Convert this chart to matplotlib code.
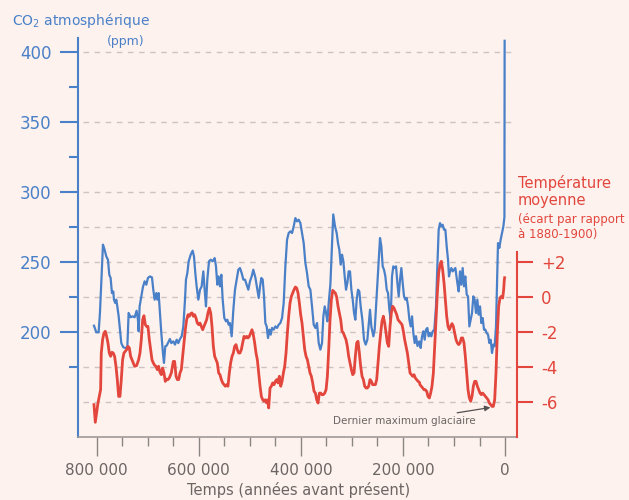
import matplotlib
matplotlib.use('Agg')
import matplotlib.pyplot as plt
import numpy as np

BLUE = '#4a80c8'
RED = '#e2463c'
GREY = '#6b6563'
BG = '#fdf2ee'

# time in thousands of years before present
co2_ka = [805.2, 800.7, 796.1, 793.5, 789.6, 787.6, 784.4, 781.1, 777.8, 775.2, 772.6, 770.0, 767.4, 766.1,
          763.5, 761.5, 759.5, 756.9, 754.3, 751.7, 747.8, 743.9, 739.9, 737.3, 733.4, 729.5, 725.6, 721.7,
          719.1, 717.7, 715.8, 712.5, 709.3, 706.0, 702.7, 699.5, 695.5, 691.6, 689.0, 686.4, 683.1, 681.2,
          678.6, 675.9, 673.3, 670.1, 668.1, 665.5, 662.9, 660.3, 656.4, 653.7, 649.8, 646.5, 643.2, 640.0,
          636.7, 633.4, 630.2, 626.9, 625.0, 622.3, 619.7, 615.8, 611.9, 609.3, 606.7, 604.1, 600.8, 597.5,
          594.3, 591.0, 588.4, 585.8, 583.2, 579.9, 576.6, 572.7, 568.8, 566.2, 563.6, 561.0, 558.4, 555.7,
          553.1, 549.9, 546.6, 544.0, 541.4, 538.8, 535.5, 532.2, 529.0, 525.7, 522.4, 519.2, 515.9, 512.6,
          509.4, 506.1, 502.9, 499.6, 496.3, 493.1, 489.1, 485.8, 482.5, 479.9, 477.3, 474.7, 472.1, 469.5,
          466.9, 464.3, 461.6, 459.0, 456.4, 453.2, 449.9, 446.6, 443.4, 440.1, 436.8, 433.6, 430.3, 427.0,
          423.8, 420.5, 417.2, 414.0, 410.7, 407.4, 404.2, 400.9, 397.7, 394.4, 391.1, 387.9, 384.6, 381.3,
          378.1, 374.8, 371.5, 368.3, 365.0, 361.7, 358.5, 355.9, 353.2, 350.6, 348.0, 345.4, 342.1, 338.9,
          336.5, 333.0, 329.8, 327.2, 324.6, 321.9, 319.3, 316.7, 314.1, 311.5, 308.9, 306.3, 303.7, 301.0,
          298.4, 295.8, 293.2, 290.6, 288.0, 285.4, 282.8, 279.5, 276.2, 273.0, 269.7, 267.1, 264.5, 261.9,
          257.9, 255.3, 252.7, 250.1, 247.5, 244.9, 242.3, 239.7, 237.1, 234.4, 231.8, 229.2, 226.6, 224.0,
          221.4, 218.8, 216.2, 213.5, 210.9, 208.3, 205.7, 203.1, 200.5, 197.9, 195.3, 192.6, 190.0, 187.4,
          184.8, 182.2, 179.6, 177.0, 174.4, 171.5, 167.9, 165.3, 162.6, 160.0, 157.4, 154.8, 152.2, 149.6,
          147.0, 144.4, 141.7, 138.5, 135.2, 132.6, 130.0, 127.4, 124.8, 122.2, 119.6, 116.9, 114.3, 111.7,
          109.8, 107.8, 105.2, 102.6, 100.0, 97.3, 96.0, 93.4, 90.8, 88.2, 85.6, 83.0, 80.4, 77.8,
          75.1, 72.5, 69.9, 67.3, 64.7, 62.1, 59.5, 56.9, 54.2, 51.6, 49.0, 46.4, 43.8, 41.2,
          38.6, 36.0, 33.3, 30.7, 28.1, 25.5, 22.9, 20.3, 17.7, 15.7, 13.8, 11.2, 8.6, 5.9,
          3.3, 1.2, 0.8]
co2_ppm = [204.5, 199.8, 199.8, 213.6, 246.9, 262.4, 258.8, 254.0, 251.6, 240.9, 238.6, 227.8, 229.0, 223.1,
           220.7, 223.1, 218.3, 211.4, 201.7, 192.1, 189.1, 188.6, 189.1, 213.6, 210.5, 211.2, 210.5, 215.2,
           208.8, 200.5, 218.3, 225.5, 232.1, 236.2, 233.8, 238.6, 239.7, 239.0, 230.2, 223.1, 227.8, 223.1,
           227.8, 213.6, 199.3, 185.0, 177.9, 189.8, 190.2, 192.1, 195.0, 192.1, 193.3, 191.0, 194.5, 192.1,
           195.0, 196.9, 204.0, 223.1, 237.4, 242.1, 250.5, 255.2, 258.1, 254.0, 242.1, 232.6, 223.1, 230.2,
           232.6, 243.3, 230.2, 218.3, 237.4, 250.5, 251.6, 250.5, 252.8, 246.9, 233.8, 239.7, 232.6, 240.9,
           223.1, 210.0, 207.6, 208.8, 205.2, 206.4, 196.9, 215.9, 230.2, 237.4, 244.5, 245.7, 242.1, 237.4,
           237.4, 233.8, 230.2, 236.2, 239.7, 244.5, 239.0, 231.4, 224.3, 232.6, 238.6, 237.4, 225.5, 206.4,
           204.0, 195.7, 201.7, 198.1, 202.9, 201.7, 204.0, 202.9, 205.2, 206.4, 210.0, 220.7, 246.9, 265.9,
           270.7, 271.9, 270.7, 275.4, 281.4, 279.0, 280.2, 277.8, 270.7, 263.5, 249.3, 242.1, 232.6, 230.2,
           218.3, 205.2, 202.9, 206.4, 192.1, 187.4, 192.1, 211.2, 218.3, 213.6, 207.6, 220.7, 234.2, 263.5,
           284.0, 275.4, 270.7, 263.5, 258.8, 248.1, 255.2, 250.5, 239.7, 230.2, 235.0, 243.3, 243.3, 230.2,
           223.1, 213.6, 208.8, 223.1, 230.2, 229.0, 218.3, 208.8, 194.5, 191.0, 194.5, 205.2, 215.9, 204.0,
           196.9, 201.7, 218.3, 235.0, 252.8, 267.1, 261.2, 246.9, 244.5, 239.7, 230.2, 227.8, 215.9, 208.8,
           239.7, 246.9, 245.7, 246.9, 235.0, 225.5, 237.4, 245.7, 235.0, 225.5, 223.1, 224.3, 218.3, 208.8,
           204.0, 211.2, 199.3, 192.1, 197.0, 190.0, 193.3, 188.6, 196.9, 200.5, 194.5, 201.7, 202.9, 196.9,
           199.3, 196.9, 200.5, 201.7, 218.3, 246.9, 273.1, 277.8, 275.4, 276.6, 273.1, 273.1, 261.2, 251.6,
           239.7, 243.3, 245.7, 243.3, 244.5, 245.7, 242.1, 235.0, 229.0, 243.3, 233.8, 245.7, 232.6, 239.7,
           226.7, 225.5, 204.0, 208.8, 213.6, 225.5, 223.1, 213.6, 223.1, 212.4, 218.3, 206.4, 210.0, 201.7,
           201.7, 199.3, 198.1, 192.1, 194.5, 185.0, 191.0, 189.8, 204.0, 235.0, 263.5, 260.0, 265.9, 270.7,
           275.4, 282.0, 408.0]

temp_ka = [805.2, 802.6, 800.0, 797.4, 794.8, 792.2, 790.9, 788.3, 785.7, 783.0, 780.4, 777.8, 775.2, 772.6,
           770.0, 767.4, 764.8, 762.1, 759.5, 756.9, 754.3, 751.7, 749.1, 746.5, 743.9, 741.3, 738.6, 736.0,
           733.4, 730.8, 728.2, 725.6, 721.7, 717.7, 715.1, 712.5, 709.9, 707.3, 704.7, 702.1, 699.5, 696.8,
           694.2, 691.6, 689.0, 686.4, 683.8, 681.2, 678.6, 675.9, 673.3, 670.7, 668.1, 665.5, 662.9, 660.3,
           657.7, 653.7, 649.8, 647.2, 644.5, 641.9, 639.3, 636.7, 634.1, 631.5, 628.9, 626.3, 623.7, 621.0,
           618.4, 615.8, 613.2, 610.6, 608.0, 605.4, 602.8, 600.1, 597.5, 594.9, 592.3, 589.7, 587.1, 584.5,
           581.9, 579.2, 576.6, 574.0, 571.4, 568.8, 566.2, 563.6, 561.0, 558.4, 555.7, 553.1, 550.5, 547.9,
           545.3, 542.7, 540.1, 537.5, 534.8, 532.2, 529.6, 527.0, 524.4, 521.8, 519.2, 516.6, 513.9, 511.3,
           508.7, 506.1, 503.5, 500.9, 498.3, 495.7, 493.1, 490.4, 487.8, 485.2, 482.5, 479.9, 477.3, 474.7,
           472.1, 469.5, 466.9, 464.3, 463.0, 460.3, 457.7, 455.1, 452.5, 449.9, 447.3, 444.7, 442.1, 439.4,
           436.8, 434.2, 431.6, 429.0, 426.4, 423.8, 421.2, 418.5, 415.9, 413.3, 410.7, 408.1, 405.5, 402.9,
           400.3, 397.7, 395.0, 392.4, 389.8, 387.2, 384.6, 382.0, 379.4, 376.8, 374.1, 371.5, 368.9, 366.3,
           363.7, 361.1, 358.5, 355.9, 353.2, 350.6, 348.0, 345.4, 342.8, 340.2, 337.6, 335.0, 332.4, 329.8,
           327.2, 324.6, 321.9, 319.3, 316.7, 314.1, 311.5, 308.9, 306.3, 303.7, 301.0, 298.4, 295.8, 293.2,
           290.6, 288.0, 285.4, 282.8, 280.1, 277.5, 274.9, 272.3, 269.7, 267.1, 264.5, 261.9, 259.3, 256.6,
           254.0, 251.4, 248.8, 246.2, 243.6, 241.0, 238.4, 235.7, 233.1, 230.5, 227.9, 225.3, 222.7, 220.1,
           217.5, 214.8, 212.2, 209.6, 207.0, 204.4, 201.8, 199.2, 196.6, 193.9, 191.3, 188.7, 186.1, 183.5,
           180.9, 178.3, 175.7, 173.1, 170.4, 167.8, 166.6, 164.0, 161.3, 158.7, 156.1, 153.5, 150.9, 148.3,
           145.7, 143.1, 140.4, 137.8, 135.2, 132.6, 130.0, 127.4, 124.8, 122.2, 119.5, 116.9, 114.3, 111.7,
           109.1, 106.5, 103.9, 101.3, 98.7, 96.0, 93.4, 90.8, 88.2, 85.6, 83.0, 80.4, 77.8, 75.1,
           72.5, 69.9, 67.3, 64.7, 62.1, 59.5, 56.9, 54.2, 51.6, 49.0, 46.4, 43.8, 41.2, 38.6,
           36.0, 33.3, 30.7, 28.1, 25.5, 22.9, 20.3, 17.7, 15.1, 12.5, 9.9, 7.2, 4.6, 2.7,
           1.4, 0.8]
temp_dev = [-6.15, -7.16, -6.63, -6.06, -5.68, -5.30, -3.20, -2.44, -2.06, -1.96, -2.25, -2.63, -3.20, -3.39,
            -3.16, -3.20, -3.39, -3.96, -4.72, -5.68, -5.68, -4.72, -3.58, -3.20, -3.10, -3.01, -2.82, -2.91,
            -3.39, -3.58, -3.77, -3.96, -3.92, -3.58, -3.20, -2.44, -1.30, -1.07, -1.58, -1.68, -1.68, -2.44,
            -3.01, -3.58, -3.77, -3.90, -3.96, -4.15, -3.96, -4.30, -4.44, -4.06, -4.34, -4.82, -4.69, -4.72,
            -4.63, -4.34, -3.68, -3.68, -4.53, -4.72, -4.72, -4.34, -4.15, -3.39, -2.63, -1.87, -1.30, -1.01,
            -1.10, -0.95, -0.91, -1.10, -1.01, -1.20, -1.49, -1.58, -1.49, -1.68, -1.87, -1.68, -1.49, -1.30,
            -0.91, -0.63, -0.91, -1.68, -2.82, -3.39, -3.58, -3.77, -4.34, -4.44, -4.72, -4.91, -5.01, -5.10,
            -5.01, -5.10, -4.34, -3.77, -3.39, -3.20, -2.82, -2.72, -3.01, -3.20, -3.20, -3.01, -2.63, -2.25,
            -2.34, -2.25, -2.34, -2.25, -2.06, -1.87, -2.15, -2.63, -3.20, -3.58, -4.34, -5.10, -5.68, -5.87,
            -5.96, -5.87, -6.06, -5.87, -6.34, -5.20, -5.10, -4.91, -5.01, -4.82, -4.72, -4.91, -4.53, -5.10,
            -4.82, -4.34, -3.96, -3.20, -2.06, -1.10, -0.34, 0.04, 0.23, 0.42, 0.57, 0.51, 0.23, -0.34,
            -1.01, -1.49, -2.25, -3.01, -3.39, -3.58, -3.96, -4.34, -4.53, -4.91, -5.39, -5.49, -5.87, -6.06,
            -5.49, -5.49, -5.58, -5.58, -5.49, -5.30, -4.53, -3.01, -1.30, -0.15, 0.38, 0.30, 0.22, 0.00,
            -0.53, -0.91, -1.30, -1.96, -2.06, -2.25, -2.44, -2.82, -3.39, -3.77, -4.15, -4.44, -4.34, -3.39,
            -2.63, -2.53, -3.20, -3.96, -4.53, -4.72, -5.10, -5.20, -5.20, -5.10, -4.72, -4.82, -5.01, -5.01,
            -5.01, -4.72, -3.77, -2.82, -2.06, -1.39, -1.10, -1.49, -2.06, -2.63, -2.82, -1.68, -0.91, -0.53,
            -0.63, -0.82, -1.01, -1.30, -1.39, -1.49, -1.58, -1.96, -2.44, -2.82, -3.20, -3.77, -4.34, -4.44,
            -4.53, -4.44, -4.63, -4.72, -4.82, -4.87, -5.01, -5.10, -5.20, -5.30, -5.30, -5.39, -5.68, -5.77,
            -5.49, -5.10, -4.34, -2.82, -1.30, 0.23, 1.37, 1.85, 2.04, 1.56, 0.80, -0.15, -1.10, -1.68,
            -1.87, -1.68, -1.52, -1.68, -2.06, -2.44, -2.63, -2.72, -2.63, -2.34, -2.34, -2.63, -3.39, -4.34,
            -5.30, -5.77, -5.96, -5.68, -5.10, -4.82, -4.82, -5.10, -5.30, -5.49, -5.58, -5.49, -5.58, -5.68,
            -5.77, -5.87, -6.06, -6.15, -6.25, -6.25, -5.87, -4.34, -2.06, -0.53, -0.06, 0.04, -0.06, 0.42,
            0.99, 1.10]

grid_ppm = [400, 350, 300, 275, 250, 225, 200, 175, 150]
co2_ticks = [200, 250, 300, 350, 400]
co2_minor = [175, 225, 275, 325, 375]
temp_ticks = [2, 0, -2, -4, -6]
temp_labels = ['+2', '0', '-2', '-4', '-6']
time_ticks = [800, 600, 400, 200, 0]
time_labels = ['800 000', '600 000', '400 000', '200 000', '0']

fig = plt.figure(figsize=(6.29, 5.0), dpi=100, facecolor=BG)
ax = fig.add_axes([0.124, 0.126, 0.698, 0.798])
ax.set_facecolor(BG)
ax.set_xlim(836.5, -23.5)
ax.set_ylim(125, 410)

for v in grid_ppm:
    ax.axhline(v, xmin=0.012, xmax=0.99, color='#cbc4c1', lw=1, ls=(0, (4, 4)), zorder=0)

ax2 = ax.twinx()
ax2.set_ylim(-8.0, 14.8)

ax2.plot(temp_ka, temp_dev, color=RED, lw=2, zorder=3, solid_joinstyle='round')
ax.plot(co2_ka, co2_ppm, color=BLUE, lw=1.6, zorder=3, solid_joinstyle='round')

# spines
for s in ['top', 'right']:
    ax.spines[s].set_visible(False)
ax.spines['left'].set_color(BLUE)
ax.spines['left'].set_linewidth(1.5)
ax.spines['bottom'].set_color('#a09a98')
ax.spines['bottom'].set_linewidth(1.2)
for s in ['top', 'left', 'bottom']:
    ax2.spines[s].set_visible(False)
ax2.spines['right'].set_color(RED)
ax2.spines['right'].set_linewidth(1.5)
ax2.spines['right'].set_bounds(-8.0, 2.57)

# ticks
ax.set_yticks(co2_ticks)
ax.set_yticks(co2_minor, minor=True)
ax.tick_params(axis='y', which='major', length=13, width=1.5, color=BLUE,
               labelcolor=BLUE, labelsize=12, pad=6)
ax.tick_params(axis='y', which='minor', length=6.5, width=1.5, color=BLUE)

ax.set_xticks(time_ticks, time_labels)
ax.set_xticks(np.arange(0, 801, 50), minor=True)
ax.tick_params(axis='x', which='major', length=14, width=1, color='#8a8482',
               labelcolor=GREY, labelsize=11, pad=5)
ax.tick_params(axis='x', which='minor', length=6.5, width=1, color='#8a8482')

ax2.set_yticks(temp_ticks, temp_labels)
ax2.tick_params(axis='y', which='major', length=11.5, width=1.5, color=RED,
                labelcolor=RED, labelsize=12, pad=6)

ax2.annotate('Dernier maximum glaciaire', xy=(26, -6.3), xytext=(57, -7.1),
             ha='right', va='center', fontsize=7.5, color=GREY,
             arrowprops=dict(arrowstyle='-|>', color='#555050', lw=0.9,
                             shrinkA=3, shrinkB=1, mutation_scale=8))

# titles
fig.text(12 / 629, 1 - 20 / 500, 'CO$_2$ atmosphérique', color=BLUE, fontsize=10,
         ha='left', va='center')
fig.text(145 / 629, 1 - 41 / 500, '(ppm)', color=BLUE, fontsize=9,
         ha='right', va='center')
fig.text(518 / 629, 1 - 175 / 500, 'Température\nmoyenne', color=RED, fontsize=10.5,
         ha='left', va='top', linespacing=1.15)
fig.text(518 / 629, 1 - 213 / 500, '(écart par rapport\nà 1880-1900)', color=RED, fontsize=8.5,
         ha='left', va='top', linespacing=1.2)
fig.text(299 / 629, 1 - 490 / 500, 'Temps (années avant présent)', color=GREY, fontsize=10.5,
         ha='center', va='center')

fig.savefig('out.png', dpi=100, facecolor=BG)
